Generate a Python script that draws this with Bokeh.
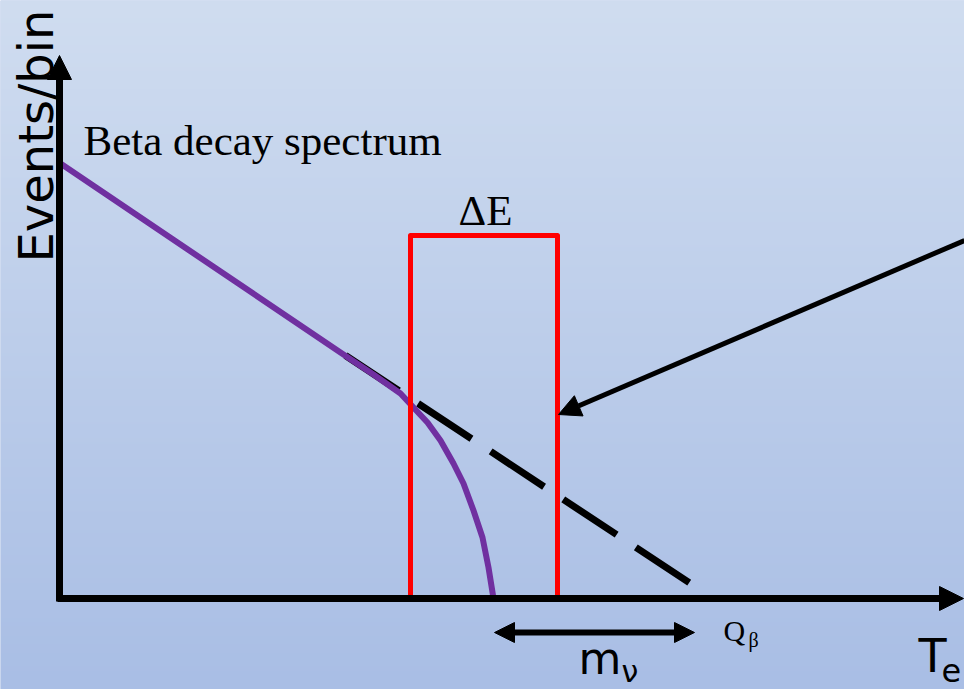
import numpy as np
from bokeh.plotting import figure
from bokeh.models import Range1d, Arrow, NormalHead, Label
from bokeh.embed import file_html
from bokeh.resources import INLINE

# Beta spectrum near the endpoint (kinetic energy vs. events/bin, arbitrary units)
energy = [0, 280, 313, 340, 353, 367, 380, 393, 403, 413, 422, 428, 433]
counts = [435, 246, 224, 205, 191, 176, 158, 135, 115, 88, 61, 31, 0]

# Massless-neutrino extrapolation of the straight part, ending at Q_beta
massless_energy = [285, 630]
massless_counts = [243, 15]

# Energy window of the detector (Delta E)
window_energy = [350, 497]
window_height = 363

# Neutrino-mass gap: from the true endpoint to Q_beta
gap_energy = [434, 634]
gap_level = -34

# Axis extents (arrow tips)
axis_energy_max = 903
axis_counts_max = 543

# Pointer to the window edge
pointer_start = (904, 358)
pointer_end = (498, 184)

W, H = 964, 689
x0, y0 = -60, -91
p = figure(width=W, height=H, x_range=Range1d(x0, x0 + W), y_range=Range1d(y0, y0 + H),
           output_backend="svg", toolbar_location=None, min_border=0,
           x_axis_location=None, y_axis_location=None)
p.grid.visible = False
p.outline_line_color = None
p.border_fill_color = "#abc0e6"
p.background_fill_color = "#abc0e6"

# vertical background gradient
top = np.array([208, 221, 240], dtype=float)
bot = np.array([169, 190, 229], dtype=float)
t = np.linspace(0, 1, H)[:, None]
rgb = (bot * (1 - t) + top * t).astype(np.uint32)
img = np.empty((H, 2), dtype=np.uint32)
view = img.view(dtype=np.uint8).reshape((H, 2, 4))
view[:, :, 0] = rgb[:, 0:1]
view[:, :, 1] = rgb[:, 1:2]
view[:, :, 2] = rgb[:, 2:3]
view[:, :, 3] = 255
p.image_rgba(image=[img], x=x0, y=y0, dw=W, dh=H)

# axes as arrows
p.add_layout(Arrow(end=NormalHead(size=24, fill_color="black", line_color="black"),
                   x_start=-3, y_start=0, x_end=axis_energy_max, y_end=0,
                   line_width=7, line_color="black"))
p.add_layout(Arrow(end=NormalHead(size=24, fill_color="black", line_color="black"),
                   x_start=-1, y_start=-3, x_end=-1, y_end=axis_counts_max,
                   line_width=7, line_color="black"))

# dashed extrapolation
p.line(massless_energy, massless_counts, line_color="black", line_width=7,
       line_dash="64 23")

# measured spectrum
p.line(energy, counts, line_color="#7030a0", line_width=6, line_join="round")

# energy window
p.line([window_energy[0], window_energy[0], window_energy[1], window_energy[1], window_energy[0]],
       [0, window_height, window_height, 0, 0],
       line_color="#ff0000", line_width=5, line_join="round")

# pointer arrow
p.add_layout(Arrow(end=NormalHead(size=22, fill_color="black", line_color="black"),
                   x_start=pointer_start[0], y_start=pointer_start[1],
                   x_end=pointer_end[0], y_end=pointer_end[1],
                   line_width=5, line_color="black"))

# neutrino-mass double arrow
p.add_layout(Arrow(start=NormalHead(size=20, fill_color="black", line_color="black"),
                   end=NormalHead(size=20, fill_color="black", line_color="black"),
                   x_start=gap_energy[0], y_start=gap_level,
                   x_end=gap_energy[1], y_end=gap_level,
                   line_width=6, line_color="black"))

serif = "Liberation Serif"
sans = "DejaVu Sans"

def label(x, y, text, font, size, **kw):
    p.add_layout(Label(x=x, y=y, text=text, text_font=font, text_font_size=f"{size}px",
                       text_color="black", text_baseline="alphabetic", **kw))

label(23, 458, "Beta decay spectrum", serif, 43)
label(425, 388, "ΔE", serif, 43, text_align="center")
label(663, -32, "Q", serif, 30)
label(688, -41, "β", serif, 20)
label(-25, 336, "Events/bin", sans, 48, angle=np.pi / 2)
label(518, -60, "m", sans, 44)
label(561, -73, "ν", sans, 30)
label(858, -57, "T", sans, 46)
label(881, -72, "e", sans, 32)

open("out.html", "w").write(file_html(p, INLINE))
